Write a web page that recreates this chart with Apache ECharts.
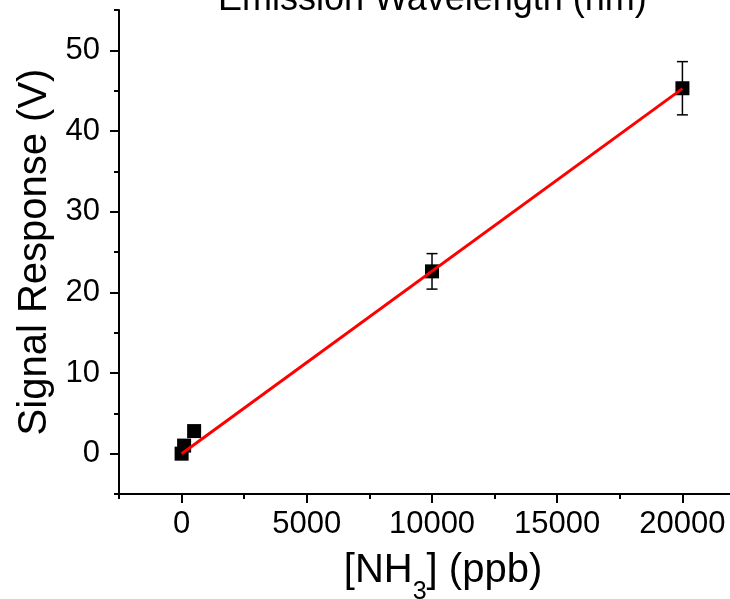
<!DOCTYPE html>
<html>
<head>
<meta charset="utf-8">
<script src="https://cdn.jsdelivr.net/npm/echarts@6/dist/echarts.min.js"></script>
<style>
  html, body { margin: 0; padding: 0; background: #fff; }
</style>
</head>
<body>
<div id="nh3Chart" style="width: 730px;height:599px;"></div>

<script>

// NH3 concentration (ppb) and signal (V)
var concPpb = [0, 100, 500, 10000, 20000];
var signalV = [0.0, 1.0, 2.8, 22.6, 45.3];
var signalErr = [0.3, 0.3, 0.3, 2.2, 3.3];

// linear fit endpoints
var fitX = [0, 20000];
var fitY = [-0.02, 45.25];

var xMajor = [0, 5000, 10000, 15000, 20000];
var xMinor = [-2500, 2500, 7500, 12500, 17500];
var yMajor = [0, 10, 20, 30, 40, 50];
var yMinor = [-5, 5, 15, 25, 35, 45, 55];

var font = 'Liberation Sans';

var chart = echarts.init(document.getElementById('nh3Chart'));

var points = concPpb.map(function (x, i) { return [x, signalV[i]]; });
var errData = concPpb.map(function (x, i) { return [x, signalV[i] - signalErr[i], signalV[i] + signalErr[i]]; });
var fitData = fitX.map(function (x, i) { return [x, fitY[i]]; });

function errorBar(params, api) {
    var lo = api.coord([api.value(0), api.value(1)]);
    var hi = api.coord([api.value(0), api.value(2)]);
    var w = 5.5;
    var st = { stroke: '#000', lineWidth: 1.5 };
    return {
        type: 'group',
        children: [
            { type: 'line', shape: { x1: lo[0], y1: lo[1], x2: hi[0], y2: hi[1] }, style: st },
            { type: 'line', shape: { x1: lo[0] - w, y1: lo[1], x2: lo[0] + w, y2: lo[1] }, style: st },
            { type: 'line', shape: { x1: hi[0] - w, y1: hi[1], x2: hi[0] + w, y2: hi[1] }, style: st }
        ]
    };
}

var axisLineStyle = { color: '#000', width: 2 };
function plain(v) { return String(v); }

chart.setOption({
    animation: false,
    backgroundColor: '#fff',
    title: {
        text: 'Emission Wavelength (nm)',
        left: 218,
        top: -18,
        padding: 0,
        textStyle: { fontFamily: font, fontSize: 36, fontWeight: 'normal', color: '#000' }
    },
    // plot runs past the right edge of the picture (it was cropped)
    grid: { left: 119, right: 0, top: 10, bottom: 105, outerBoundsMode: 'none' },
    xAxis: [{
        type: 'value',
        min: -2500,
        max: 21900,
        splitLine: { show: false },
        axisLine: { onZero: false, lineStyle: axisLineStyle },
        axisTick: { customValues: xMajor, length: 9, lineStyle: { color: '#000', width: 2 } },
        axisLabel: { customValues: xMajor, formatter: plain, margin: 15, fontFamily: font, fontSize: 31, color: '#000' },
        name: '{a|[NH}{sub|3}{a|] (ppb)}',
        nameLocation: 'middle',
        nameGap: 57,
        nameTextStyle: {
            padding: [0, 0, 0, 37],
            rich: {
                a: { fontFamily: font, fontSize: 40, lineHeight: 40, color: '#000', verticalAlign: 'top' },
                sub: { fontFamily: font, fontSize: 25, lineHeight: 25, color: '#000', verticalAlign: 'top', padding: [29, 0, 0, 0] }
            }
        }
    }, {
        type: 'value',
        min: -2500,
        max: 21900,
        position: 'bottom',
        splitLine: { show: false },
        axisLine: { show: false, onZero: false },
        axisTick: { customValues: xMinor, length: 5, lineStyle: { color: '#000', width: 2 } },
        axisLabel: { show: false }
    }],
    yAxis: [{
        type: 'value',
        min: -5,
        max: 55,
        splitLine: { show: false },
        axisLine: { show: true, onZero: false, lineStyle: axisLineStyle },
        axisTick: { show: true, customValues: yMajor, length: 9, lineStyle: { color: '#000', width: 2 } },
        axisLabel: { customValues: yMajor, formatter: plain, margin: 19, fontFamily: font, fontSize: 31, color: '#000' },
        name: 'Signal Response (V)',
        nameLocation: 'middle',
        nameRotate: 90,
        nameGap: 60,
        nameTextStyle: { fontFamily: font, fontSize: 40, color: '#000' }
    }, {
        type: 'value',
        min: -5,
        max: 55,
        position: 'left',
        splitLine: { show: false },
        axisLine: { show: false, onZero: false },
        axisTick: { show: true, customValues: yMinor, length: 5, lineStyle: { color: '#000', width: 2 } },
        axisLabel: { show: false }
    }],
    series: [{
        type: 'custom',
        renderItem: errorBar,
        data: errData,
        z: 2
    }, {
        type: 'scatter',
        data: points,
        symbol: 'rect',
        symbolSize: 14,
        itemStyle: { color: '#000', opacity: 1 },
        z: 3
    }, {
        type: 'line',
        data: fitData,
        showSymbol: false,
        lineStyle: { color: '#f00', width: 3 },
        z: 4
    }]
});

</script>
</body>
</html>
